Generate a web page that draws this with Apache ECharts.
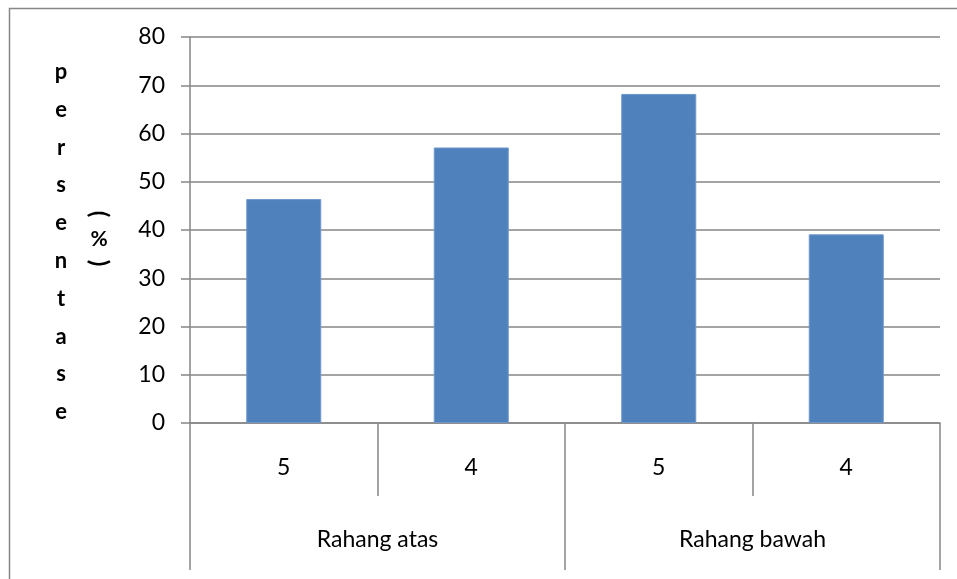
<!DOCTYPE html>
<html>
<head>
<meta charset="utf-8">
<script src="https://cdn.jsdelivr.net/npm/echarts@6/dist/echarts.min.js"></script>
<style>
html,body{margin:0;padding:0;background:#fff;}
#main{width:957px;height:579px;}
</style>
</head>
<body>
<div id="main"></div>
<script>
// data
var gigi = ['5', '4', '5', '4'];
var rahang = ['Rahang atas', 'Rahang bawah'];
var persen = [46.4, 57.1, 68.2, 39.1];
var yTicks = [0, 80, 10];

var myChart = echarts.init(document.getElementById('main'));
var fontFam = 'Lato';
var grey = '#868686';

function txt(ch, x, y, size, rot) {
    return {
        type: 'text', x: x, y: y, rotation: rot || 0,
        style: {
            text: ch, fill: '#000', fontSize: size, fontWeight: 'bold', fontFamily: fontFam,
            align: 'center', verticalAlign: 'middle'
        }
    };
}

var letters = 'persentase'.split('');
var graphics = [{
    type: 'rect',
    shape: { x: 9.5, y: 8.5, width: 960, height: 590 },
    style: { fill: 'none', stroke: grey, lineWidth: 1.5 }
}];
letters.forEach(function (ch, i) {
    graphics.push(txt(ch, 61, 72 + i * 37.8, 22));
});
// "(%)" ditulis vertikal, kurung diputar
graphics.push(txt('(', 99, 214, 24, -Math.PI / 2));
graphics.push(txt('%', 99, 239, 21));
graphics.push(txt(')', 99, 263, 24, -Math.PI / 2));

option = {
    animation: false,
    grid: { left: 190, right: 17, top: 37, bottom: 156 },
    graphic: graphics,
    xAxis: [{
        type: 'category',
        data: gigi,
        axisLine: { lineStyle: { color: grey, width: 1.5 } },
        axisTick: { show: true, interval: 0, length: 73, lineStyle: { color: grey, width: 1.5 } },
        axisLabel: { color: '#000', fontSize: 23, fontFamily: fontFam, margin: 33 }
    }, {
        type: 'category',
        data: rahang,
        position: 'bottom',
        axisLine: { show: false },
        axisTick: { show: true, interval: 0, length: 147, lineStyle: { color: grey, width: 1.5 } },
        axisLabel: { color: '#000', fontSize: 23, fontFamily: fontFam, margin: 105 }
    }],
    yAxis: {
        type: 'value',
        min: yTicks[0],
        max: yTicks[1],
        interval: yTicks[2],
        axisLine: { show: true, lineStyle: { color: grey, width: 1.5 } },
        axisTick: { show: true, length: 9, lineStyle: { color: grey, width: 1.5 } },
        axisLabel: { color: '#000', fontSize: 23, fontFamily: fontFam, margin: 25 },
        splitLine: { lineStyle: { color: grey, width: 1.5 } }
    },
    series: [{
        type: 'bar',
        xAxisIndex: 0,
        data: persen,
        barWidth: '40%',
        itemStyle: { color: '#4f81bd', borderColor: '#6f97ca', borderWidth: 1 }
    }]
};
myChart.setOption(option);
</script>
</body>
</html>
